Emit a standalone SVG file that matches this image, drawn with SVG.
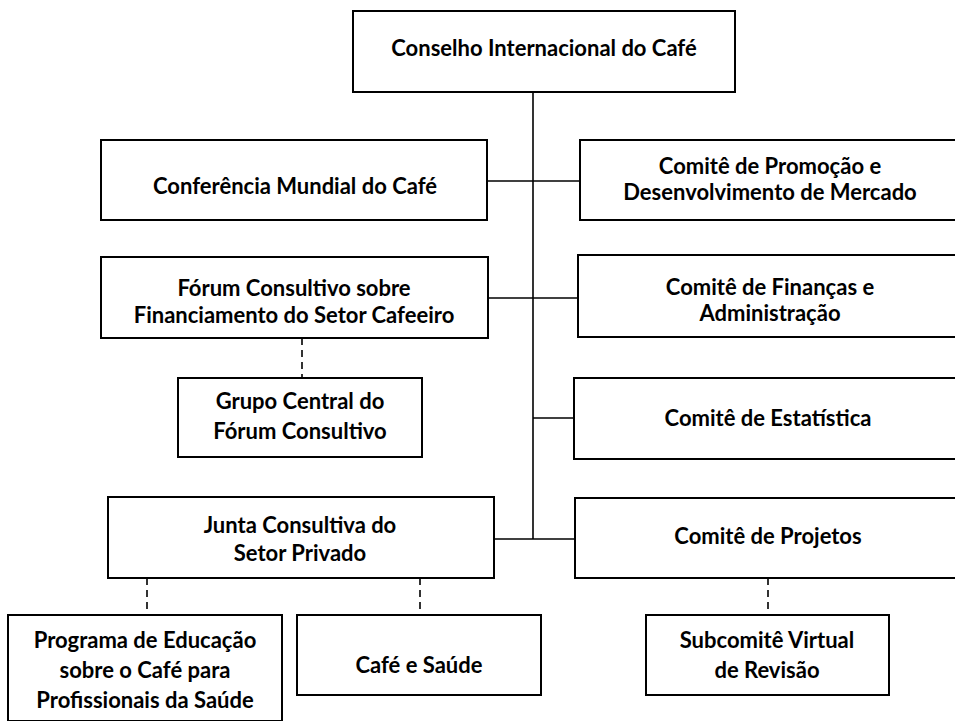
<svg xmlns="http://www.w3.org/2000/svg" width="955" height="721" viewBox="0 0 955 721">
<style>
.box{fill:#fff;stroke:#000;stroke-width:2}
.t{font-family:Lato,"Open Sans","Liberation Sans",sans-serif;font-weight:bold;font-size:22px;fill:#000;text-anchor:middle}
.ln{stroke:#000;stroke-width:1.6;fill:none}
.dash{stroke:#000;stroke-width:1.6;fill:none;stroke-dasharray:7 5}
</style>
<rect width="955" height="721" fill="#fff"/>
<g id="connectors">
<line class="ln" x1="533" y1="92" x2="533" y2="539"/>
<line class="ln" x1="487" y1="181" x2="580" y2="181"/>
<line class="ln" x1="488" y1="298" x2="578" y2="298"/>
<line class="ln" x1="533" y1="418" x2="574" y2="418"/>
<line class="ln" x1="494" y1="539" x2="575" y2="539"/>
<line class="dash" x1="302" y1="338" x2="302" y2="378"/>
<line class="dash" x1="147" y1="578" x2="147" y2="615"/>
<line class="dash" x1="420" y1="578" x2="420" y2="615"/>
<line class="dash" x1="768" y1="578" x2="768" y2="615"/>
</g>
<g id="conselho">
<rect class="box" x="353" y="11" width="382" height="81"/>
<text class="t" x="544" y="56">Conselho Internacional do Café</text>
</g>
<g id="conferencia">
<rect class="box" x="101" y="140" width="386" height="80"/>
<text class="t" x="295" y="194">Conferência Mundial do Café</text>
</g>
<g id="promocao">
<rect class="box" x="580" y="140" width="385" height="80"/>
<text class="t" x="770" y="174">Comitê de Promoção e</text>
<text class="t" x="770" y="200">Desenvolvimento de Mercado</text>
</g>
<g id="forum">
<rect class="box" x="101" y="257" width="387" height="81"/>
<text class="t" x="294" y="296">Fórum Consultivo sobre</text>
<text class="t" x="294" y="323">Financiamento do Setor Cafeeiro</text>
</g>
<g id="financas">
<rect class="box" x="578" y="255" width="387" height="82"/>
<text class="t" x="770" y="295">Comitê de Finanças e</text>
<text class="t" x="770" y="321">Administração</text>
</g>
<g id="grupo">
<rect class="box" x="178" y="378" width="244" height="79"/>
<text class="t" x="300" y="409">Grupo Central do</text>
<text class="t" x="300" y="439">Fórum Consultivo</text>
</g>
<g id="estatistica">
<rect class="box" x="574" y="378" width="391" height="81"/>
<text class="t" x="768" y="426">Comitê de Estatística</text>
</g>
<g id="junta">
<rect class="box" x="108" y="497" width="386" height="81"/>
<text class="t" x="300" y="533">Junta Consultiva do</text>
<text class="t" x="300" y="561">Setor Privado</text>
</g>
<g id="projetos">
<rect class="box" x="575" y="498" width="390" height="80"/>
<text class="t" x="768" y="544">Comitê de Projetos</text>
</g>
<g id="programa">
<rect class="box" x="8" y="615" width="274" height="106"/>
<text class="t" x="145" y="648">Programa de Educação</text>
<text class="t" x="145" y="678">sobre o Café para</text>
<text class="t" x="145" y="708">Profissionais da Saúde</text>
</g>
<g id="cafe-saude">
<rect class="box" x="297" y="615" width="244" height="80"/>
<text class="t" x="419" y="673">Café e Saúde</text>
</g>
<g id="subcomite">
<rect class="box" x="646" y="615" width="243" height="80"/>
<text class="t" x="767" y="648">Subcomitê Virtual</text>
<text class="t" x="767" y="678">de Revisão</text>
</g>
</svg>
